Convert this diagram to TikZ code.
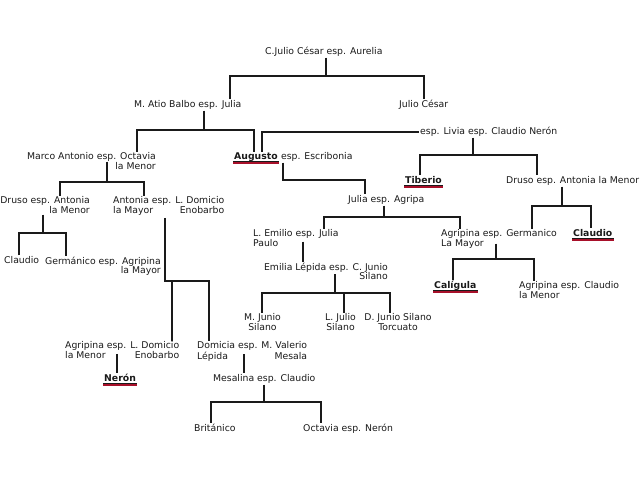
\documentclass[tikz,border=0pt]{standalone}
\usepackage{fontspec}
\setmainfont{DejaVu Sans}
\usetikzlibrary{calc}
\definecolor{linea}{HTML}{1A1A1A}
\definecolor{subrayado}{HTML}{A8102A}
\newcommand\famfont{\fontsize{9.3}{9.6}\selectfont}

\tikzset{
  pers/.style = {inner sep = 1pt, font = \famfont, text = linea, anchor = base west},
  emp/.style = {pers, font = \famfont\bfseries},
  rama/.style = {draw = linea, line width = 1.6pt},
  finorule/.style = {draw = linea, line width = 0.6pt},
  rojorule/.style = {draw = subrayado, line width = 2.2pt}
}
\newcommand\marcar[1]{
  \draw[finorule] ([yshift=-1.4pt]#1.base west) -- ([yshift=-1.4pt]#1.base east);
  \draw[rojorule] ([yshift=-3.8pt]#1.base west) -- ([yshift=-3.8pt]#1.base east);
}

\begin{document}
\begin{tikzpicture}[x = 1pt, y = -1pt]
            \useasboundingbox[fill = white] (0, 0) rectangle (640, 480);

            \node (cesar) at (264, 54.5) [pers]{C.Julio César esp. Aurelia};
            \node (atio) at (133, 107.5) [pers]{M. Atio Balbo esp. Julia};
            \node (jcesar) at (398, 107.5) [pers]{Julio César};
            \node (marco) at (157, 151.5) [pers, anchor = north east, align = right]{Marco Antonio esp. Octavia\\la Menor};
            \node (augusto) at (233, 159.5) [emp]{Augusto};
            \node (escrib) at ($(augusto.base east) + (1, 0)$) [pers]{esp. Escribonia};
            \node (livia) at (419, 134.5) [pers]{esp. Livia esp. Claudio Nerón};
            \node (tiberio) at (404, 183.5) [emp]{Tiberio};
            \node (drusoR) at (505, 183.5) [pers]{Druso esp. Antonia la Menor};
            \node (julia) at (347, 202.5) [pers]{Julia esp. Agripa};
            \node (drusoL) at (91, 195.5) [pers, anchor = north east, align = right]{Druso esp. Antonia\\la Menor};
            \node (antonia) at (112, 195.5) [pers, anchor = north west]{\begin{tabular}{@{}l@{}}Antonia esp. L. Domicio\\la Mayor\hfill Enobarbo\end{tabular}};
            \node (emilio) at (252, 228.5) [pers, anchor = north west, align = left]{L. Emilio esp. Julia\\Paulo};
            \node (agripG) at (440, 228.5) [pers, anchor = north west, align = left]{Agripina esp. Germanico\\La Mayor};
            \node (claudioR) at (572, 236.5) [emp]{Claudio};
            \node (claudioL) at (3, 263.5) [pers]{Claudio};
            \node (germ) at (162, 255.5) [pers, anchor = north east, align = right]{Germánico esp. Agripina\\la Mayor};
            \node (lepida) at (389, 261.5) [pers, anchor = north east, align = right]{Emilia Lépida esp. C. Junio\\Silano};
            \node (caligula) at (433, 288.5) [emp]{Calígula};
            \node (agripC) at (518, 280.5) [pers, anchor = north west, align = left]{Agripina esp. Claudio\\la Menor};
            \node (mjunio) at (262.5, 312.5) [pers, anchor = north, align = center]{M. Junio\\Silano};
            \node (ljulio) at (340.5, 312.5) [pers, anchor = north, align = center]{L. Julio\\Silano};
            \node (djunio) at (398, 312.5) [pers, anchor = north, align = center]{D. Junio Silano\\Torcuato};
            \node (agripN) at (64, 340.5) [pers, anchor = north west]{\begin{tabular}{@{}l@{}}Agripina esp. L. Domicio\\la Menor\hfill Enobarbo\end{tabular}};
            \node (domicia) at (196, 340.5) [pers, anchor = north west]{\begin{tabular}{@{}l@{}}Domicia esp. M. Valerio\\Lépida\hfill Mesala\end{tabular}};
            \node (neron) at (103, 381.5) [emp]{Nerón};
            \node (mesalina) at (212, 381.5) [pers]{Mesalina esp. Claudio};
            \node (britanico) at (193, 431.5) [pers]{Británico};
            \node (octavia) at (302, 431.5) [pers]{Octavia esp. Nerón};

            \marcar{augusto}
            \marcar{tiberio}
            \marcar{claudioR}
            \marcar{caligula}
            \marcar{neron}

            \draw[rama] (326, 0 |- cesar.south) -- (326, 76);
            \draw[rama] (230, 0 |- atio.north) |- (424, 76) -- (424, 0 |- jcesar.north);
            \draw[rama] (204, 0 |- atio.south) -- (204, 130);
            \draw[rama] (137, 0 |- marco.north) |- (254, 130) -- (254, 0 |- augusto.north);
            \draw[rama] (262, 0 |- augusto.north) |- (livia.west);
            \draw[rama] (473, 0 |- livia.south) -- (473, 155);
            \draw[rama] (420, 0 |- tiberio.north) |- (537, 155) -- (537, 0 |- drusoR.north);
            \draw[rama] (283, 0 |- escrib.south) |- (365, 180) -- (365, 0 |- julia.north);
            \draw[rama] (107, 0 |- marco.south) ++(0, -9) -- (107, 182);
            \draw[rama] (60, 0 |- drusoL.north) |- (144, 182) -- (144, 0 |- antonia.north);
            \draw[rama] (43, 0 |- drusoL.south) -- (43, 233);
            \draw[rama] (19, 0 |- claudioL.north) |- (66, 233) -- (66, 0 |- germ.north);
            \draw[rama] (165, 0 |- antonia.south) |- (209, 281) -- (209, 0 |- domicia.north);
            \draw[rama] (172, 281) -- (172, 0 |- agripN.north);
            \draw[rama] (384, 0 |- julia.south) -- (384, 217);
            \draw[rama] (324, 0 |- emilio.north) |- (460, 217) -- (460, 0 |- agripG.north);
            \draw[rama] (562, 0 |- drusoR.south) -- (562, 206);
            \draw[rama] (532, 0 |- agripG.north) |- (591, 206) -- (591, 0 |- claudioR.north);
            \draw[rama] (303, 0 |- emilio.south) ++(0, -6) -- (303, 0 |- lepida.north);
            \draw[rama] (496, 0 |- agripG.south) ++(0, -6) -- (496, 259);
            \draw[rama] (453, 0 |- caligula.north) |- (534, 259) -- (534, 0 |- agripC.north);
            \draw[rama] (335, 0 |- lepida.south) ++(0, -7) -- (335, 293);
            \draw[rama] (262, 0 |- mjunio.north) |- (390, 293) -- (390, 0 |- djunio.north);
            \draw[rama] (344, 293) -- (344, 0 |- ljulio.north);
            \draw[rama] (117, 0 |- agripN.south) ++(0, -9) -- (117, 0 |- neron.north);
            \draw[rama] (244, 0 |- domicia.south) ++(0, -9) -- (244, 0 |- mesalina.north);
            \draw[rama] (264, 0 |- mesalina.south) -- (264, 402);
            \draw[rama] (211, 0 |- britanico.north) |- (321, 402) -- (321, 0 |- octavia.north);
        \end{tikzpicture}
\end{document}
